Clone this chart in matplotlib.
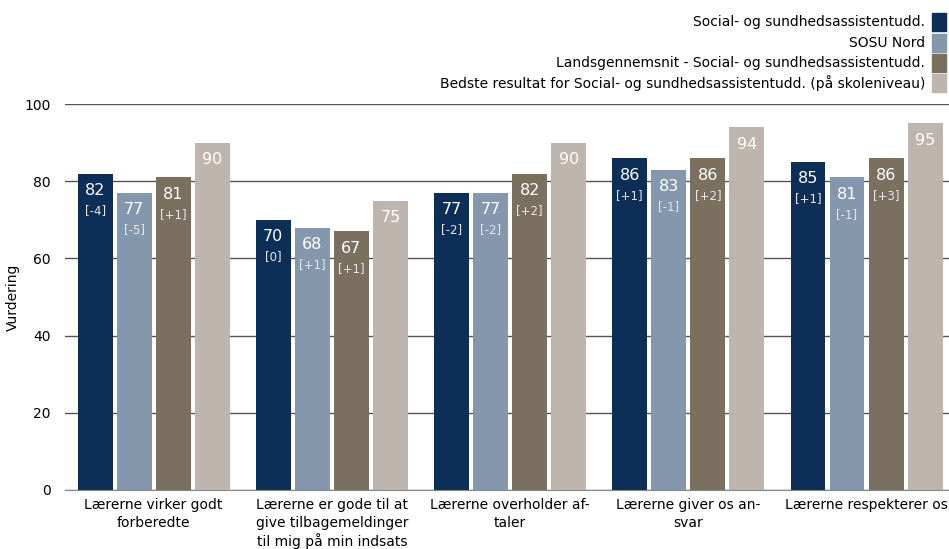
import matplotlib
matplotlib.use("Agg")
import matplotlib.pyplot as plt
from matplotlib.patches import Rectangle
import numpy as np

categories = [
    "Lærerne virker godt\nforberedte",
    "Lærerne er gode til at\ngive tilbagemeldinger\ntil mig på min indsats",
    "Lærerne overholder af-\ntaler",
    "Lærerne giver os an-\nsvar",
    "Lærerne respekterer os",
]
series_names = [
    "Social- og sundhedsassistentudd.",
    "SOSU Nord",
    "Landsgennemsnit - Social- og sundhedsassistentudd.",
    "Bedste resultat for Social- og sundhedsassistentudd. (på skoleniveau)",
]
s1 = [82, 70, 77, 86, 85]
s2 = [77, 68, 77, 83, 81]
s3 = [81, 67, 82, 86, 86]
s4 = [90, 75, 90, 94, 95]
d1 = ["[-4]", "[0]", "[-2]", "[+1]", "[+1]"]
d2 = ["[-5]", "[+1]", "[-2]", "[-1]", "[-1]"]
d3 = ["[+1]", "[+1]", "[+2]", "[+2]", "[+3]"]
colors = ["#0d2e56", "#8597ac", "#7b6f5f", "#bdb5ae"]

series = [s1, s2, s3, s4]
deltas = [d1, d2, d3, None]

plt.rcParams['font.family'] = ['DejaVu Sans']
fig = plt.figure(figsize=(9.49, 5.49), dpi=100)
ax = fig.add_axes([0.068, 0.1075, 0.939, 0.703])

x = np.arange(len(categories))
step = 0.219
width = 0.196
for i, (vals, col) in enumerate(zip(series, colors)):
    xs = x + (i - 1.5) * step
    ax.bar(xs, vals, width=width, color=col, zorder=3)
    for j, (xx, v) in enumerate(zip(xs, vals)):
        ax.annotate(str(v), (xx, v), xytext=(0, -17), textcoords='offset pixels',
                    ha='center', va='center', color='white', fontsize=11.5, zorder=4)
        if deltas[i] is not None:
            ax.annotate(deltas[i][j], (xx, v), xytext=(0, -37), textcoords='offset pixels',
                        ha='center', va='center', color='#e8e8e8', fontsize=8.5, zorder=4)

ax.set_xlim(-0.5, 4.5)
ax.set_ylim(0, 100)
ax.set_yticks([0, 20, 40, 60, 80, 100])
ax.set_xticks(x)
ax.set_xticklabels(categories, fontsize=10, linespacing=1.3)
ax.tick_params(axis='y', labelsize=10, length=0, pad=10)
ax.tick_params(axis='x', length=0, pad=6)
ax.grid(axis='y', color='#555555', linewidth=1, zorder=0)
for s in ['top', 'right', 'left']:
    ax.spines[s].set_visible(False)
ax.spines['bottom'].set_color('#888888')
ax.spines['bottom'].set_zorder(5)
ax.set_ylabel("Vurdering", fontsize=10, labelpad=3)

# legend (right aligned, markers on the right)
W, H = 949, 549
rows_y = [22, 43, 63, 83]
for name, col, yy in zip(series_names, colors, rows_y):
    fig.text(925 / W, 1 - yy / H, name, ha='right', va='center', fontsize=10)
    fig.patches.append(Rectangle((932 / W, 1 - (yy + 9) / H), 14 / W, 18 / H,
                                 transform=fig.transFigure, color=col, figure=fig))

fig.savefig("out.png", dpi=100)
